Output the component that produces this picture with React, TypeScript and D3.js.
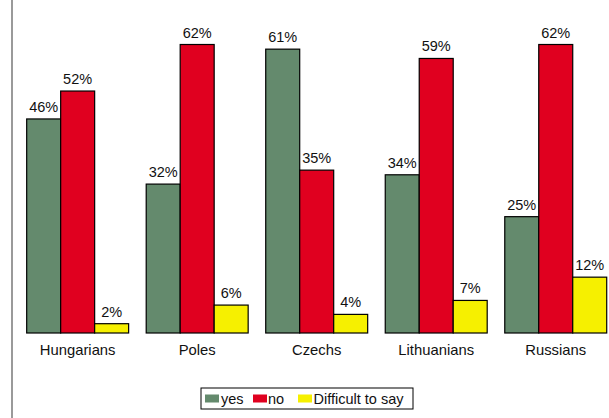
import React from "react";
import * as d3 from "d3";

const categories = ["Hungarians", "Poles", "Czechs", "Lithuanians", "Russians"];
const seriesNames = ["yes", "no", "Difficult to say"];
const yesValues = [46, 32, 61, 34, 25];
const noValues = [52, 62, 35, 59, 62];
const difficultValues = [2, 6, 4, 7, 12];

const colors = ["#648a6d", "#e0001f", "#f6f000"];

const width = 609;
const height = 418;
const baseY = 333;

const App: React.FC = () => {
  const series = [yesValues, noValues, difficultValues];

  const x = d3
    .scaleBand<string>()
    .domain(categories)
    .range([17.9, 615.5])
    .paddingInner(0.147)
    .paddingOuter(0.0735);

  const xInner = d3
    .scaleBand<string>()
    .domain(seriesNames)
    .range([0, x.bandwidth()])
    .padding(0);

  // 62% bar top sits at y=44
  const y = d3.scaleLinear().domain([0, 62]).range([baseY, 44.5]);

  const font = "Arial, 'Liberation Sans', sans-serif";

  // legend layout
  const legend = { x: 201, y: 388, w: 212, h: 21 };
  const legendItems = [
    { sx: 205, tx: 221 },
    { sx: 253, tx: 268 },
    { sx: 298, tx: 313.5 },
  ];

  return (
    <div style={{ position: "fixed", left: 0, top: 0 }}>
      <svg width={width} height={height} style={{ display: "block", background: "#fff" }}>
        <line x1={12} x2={12} y1={0} y2={height} stroke="#9a9a9a" strokeWidth={2} />

        {categories.map((c, i) => (
          <g key={c} transform={`translate(${x(c)},0)`}>
            {seriesNames.map((s, j) => {
              const v = series[j][i];
              const bx = xInner(s) as number;
              const bw = xInner.bandwidth();
              return (
                <g key={s}>
                  <rect
                    x={bx}
                    y={y(v)}
                    width={bw}
                    height={baseY - y(v)}
                    fill={colors[j]}
                    stroke="#000"
                    strokeWidth={1.2}
                  />
                  <text
                    x={bx + bw / 2}
                    y={y(v) - 7}
                    textAnchor="middle"
                    fontFamily={font}
                    fontSize={14.5}
                    fill="#111"
                  >
                    {v}%
                  </text>
                </g>
              );
            })}
            <text
              x={x.bandwidth() / 2}
              y={355}
              textAnchor="middle"
              fontFamily={font}
              fontSize={14.8}
              fill="#111"
            >
              {c}
            </text>
          </g>
        ))}

        <rect
          x={legend.x}
          y={legend.y}
          width={legend.w}
          height={legend.h}
          fill="#fff"
          stroke="#000"
          strokeWidth={1}
        />
        {seriesNames.map((s, j) => (
          <g key={s}>
            <rect x={legendItems[j].sx} y={394.5} width={14} height={8} fill={colors[j]} />
            <text x={legendItems[j].tx} y={404} fontFamily={font} fontSize={14.5} fill="#111">
              {s}
            </text>
          </g>
        ))}
      </svg>
    </div>
  );
};

export default App;
